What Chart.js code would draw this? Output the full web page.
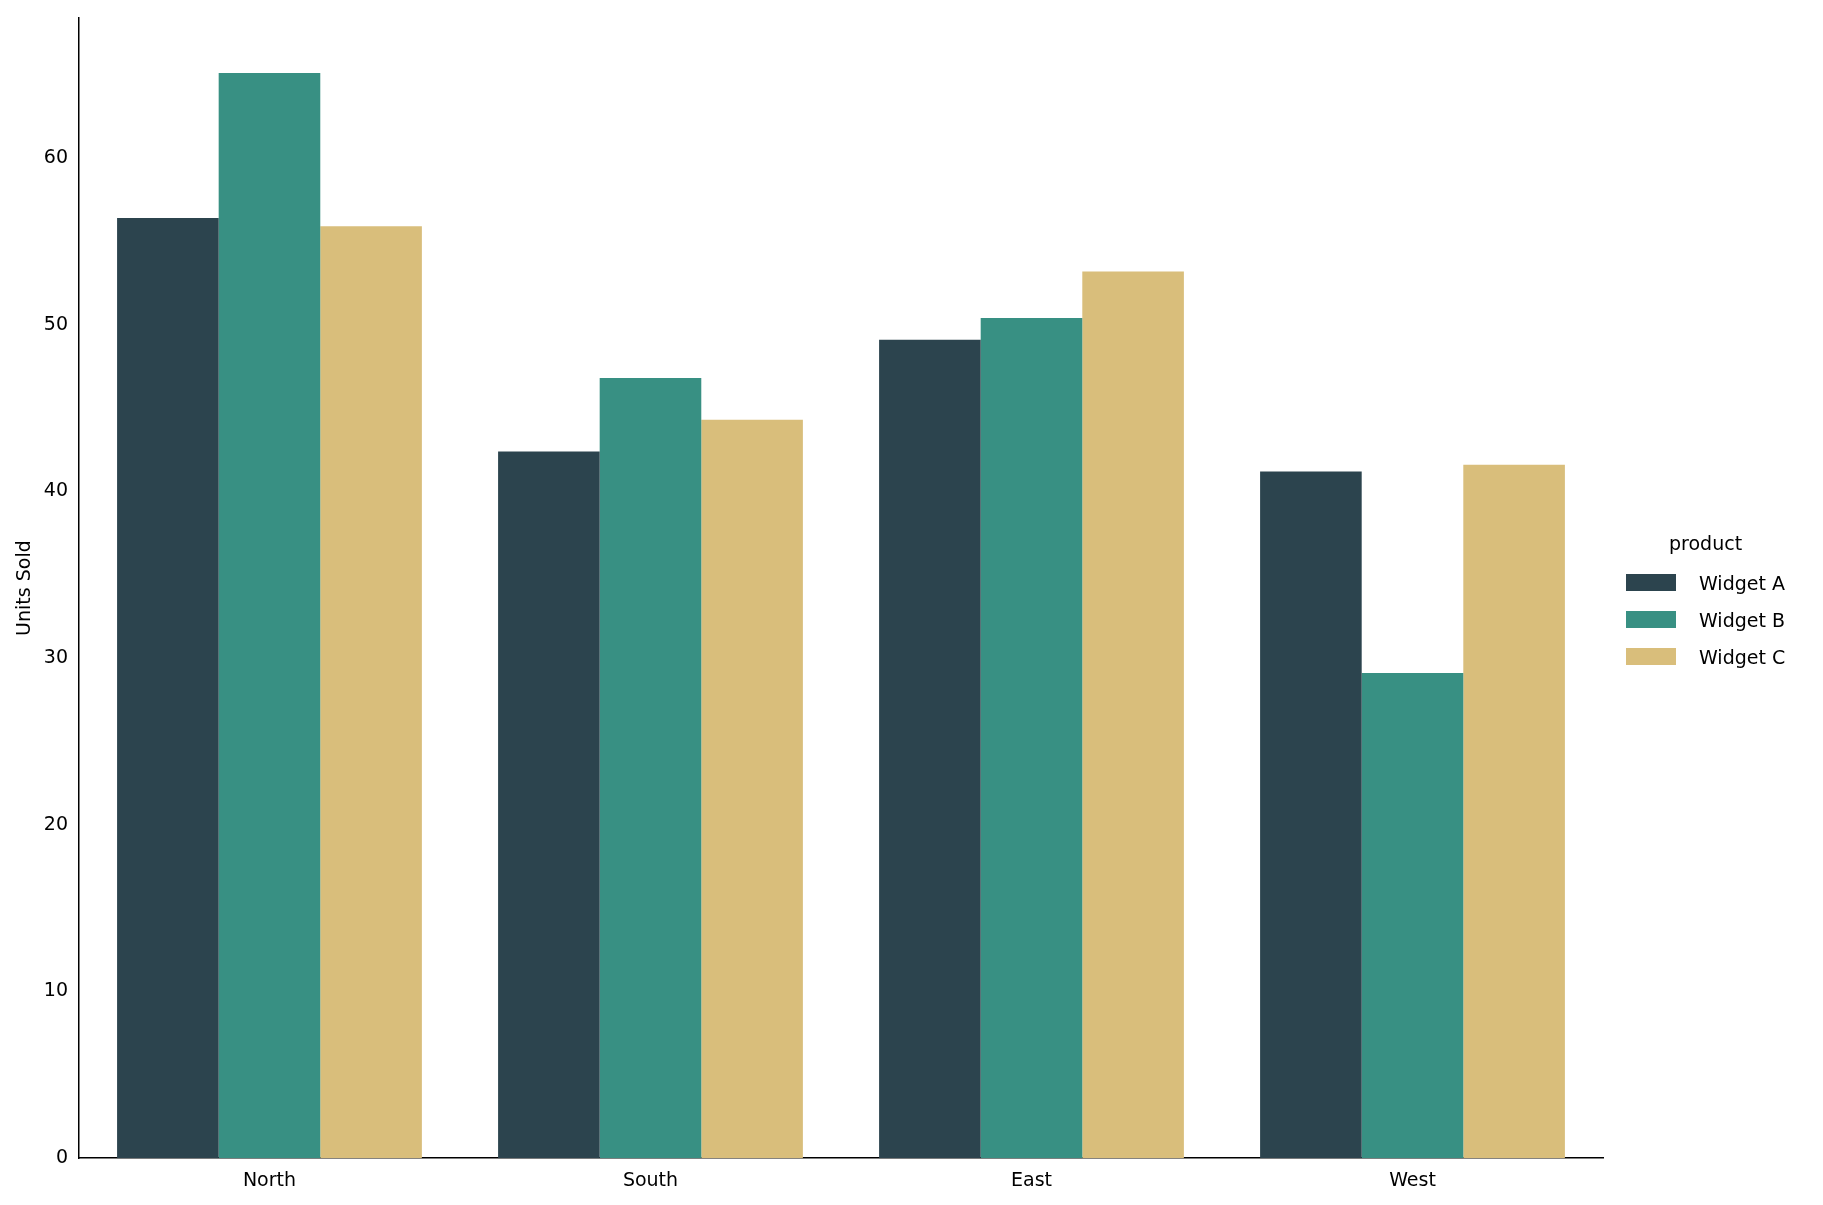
<!DOCTYPE html>
<html><head><meta charset="utf-8">
<script src="https://cdn.jsdelivr.net/npm/chart.js@4"></script>
<style>
body{margin:0;background:#fff;font-family:"DejaVu Sans",sans-serif}
#wrap{position:relative;width:1823px;height:1205px}
#legend{position:absolute;left:1626px;top:532px;font-size:19px;color:#000}
#legend .t{margin-left:43px;margin-bottom:10px}
#legend .r{display:flex;align-items:center;height:37px}
#legend .b{width:50px;height:17px;margin-right:23px}
</style></head><body>
<div id="wrap"><canvas id="c" width="1823" height="1205"></canvas>
<div id="legend"><div class="t">product</div></div></div>
<script>
const categories=["North","South","East","West"];
const products=["Widget A","Widget B","Widget C"];
const widgetA=[56.4,42.4,49.1,41.2];
const widgetB=[65.1,46.8,50.4,29.1];
const widgetC=[55.9,44.3,53.2,41.6];
const colors=["#2c444e","#389083","#d9be7b"];
const series=[widgetA,widgetB,widgetC];
const lg=document.getElementById('legend');
products.forEach((p,i)=>{const r=document.createElement('div');r.className='r';r.innerHTML='<span class="b" style="background:'+colors[i]+'"></span>'+p;lg.appendChild(r);});
new Chart(document.getElementById('c'),{type:'bar',
data:{labels:categories,datasets:products.map((p,i)=>({label:p,data:series[i],backgroundColor:colors[i],categoryPercentage:0.8,barPercentage:1}))},
options:{responsive:false,animation:false,layout:{padding:{top:18,right:220,left:10,bottom:10}},
plugins:{legend:{display:false},tooltip:{enabled:false}},
scales:{x:{grid:{display:false,drawTicks:true},border:{color:'#000',width:1.5},ticks:{color:'#000',font:{size:19,family:'DejaVu Sans'}}},
y:{min:0,max:68.4,grid:{display:false},border:{color:'#000',width:1.5},
ticks:{stepSize:10,color:'#000',font:{size:19,family:'DejaVu Sans'},callback:v=>v%10===0?v:''},
title:{display:true,text:'Units Sold',color:'#000',font:{size:19,family:'DejaVu Sans'}}}}}});
</script></body></html>
